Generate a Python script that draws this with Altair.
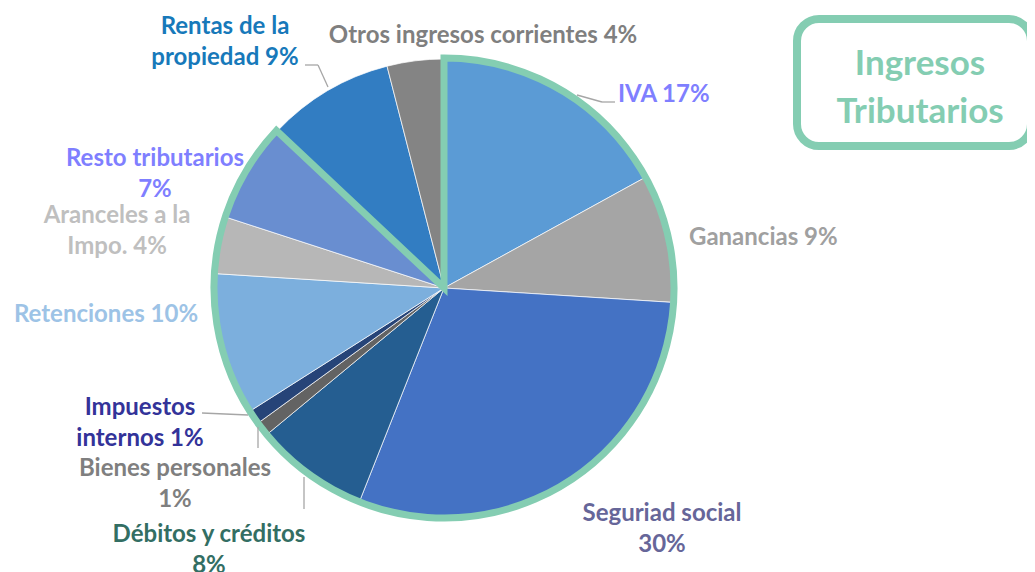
import altair as alt
import pandas as pd

# ---------------- data ----------------
categories = ["IVA", "Ganancias", "Seguridad social", "Débitos y créditos",
              "Bienes personales", "Impuestos internos", "Retenciones",
              "Aranceles a la Impo.", "Resto tributarios",
              "Rentas de la propiedad", "Otros ingresos corrientes"]
values = [17, 9, 30, 8, 1, 1, 10, 4, 7, 9, 4]
tributario = [1, 1, 1, 1, 1, 1, 1, 1, 1, 0, 0]
label_names = ["IVA ", "Ganancias ", "Seguriad social\n", "Débitos y créditos\n",
               "Bienes personales\n", "Impuestos\ninternos ", "Retenciones ",
               "Aranceles a la\nImpo. ", "Resto tributarios\n",
               "Rentas de la\npropiedad ", "Otros ingresos corrientes "]
box_title = ["Ingresos", "Tributarios"]

# ---------------- styles ----------------
slice_colors = ["#5B9BD5", "#A5A5A5", "#4472C4", "#255E91", "#636363", "#264478",
                "#7CAFDD", "#B7B7B7", "#698ED0", "#327DC2", "#848484"]
label_colors = ["#7F7FFF", "#A0A0A0", "#666699", "#336E63", "#7F7F7F", "#333399",
                "#9DC3E6", "#BFBFBF", "#7F7FFF", "#1779BA", "#7F7F7F"]
GREEN = "#84CDB2"
FONT = "Lato"
OFF = 8  # page margin
CX, CY, R = 444 - OFF, 288 - OFF, 229

# label layout (screen coords): x, y(first line), align
label_layout = [(618, 95, "left"), (689, 238, "left"), (662, 514, "center"),
                (209, 535, "center"), (175, 469, "center"), (140, 408, "center"),
                (106, 315, "center"), (117, 216, "center"), (155, 159, "center"),
                (225, 27, "center"), (483, 36, "center")]
# leader line segments (screen coords)
leaders = [(305, 65, 318, 65), (318, 65, 328, 87),
           (577, 95, 602, 102), (602, 102, 615, 102),
           (202, 413, 248, 415), (258, 427, 258, 448), (304, 477, 304, 509)]

df = pd.DataFrame({"cat": categories, "val": values, "idx": list(range(len(values))),
                   "grp": [1 - t for t in tributario]})

lab = pd.DataFrame({
    "text": [n + f"{v}%" for n, v in zip(label_names, values)],
    "lcolor": label_colors,
    "lx": [p[0] - OFF for p in label_layout],
    "ly": [p[1] - OFF for p in label_layout],
    "align": [p[2] for p in label_layout],
})
lines = pd.DataFrame({"x1": [l[0] - OFF for l in leaders], "y1": [l[1] - OFF for l in leaders],
                      "x2": [l[2] - OFF for l in leaders], "y2": [l[3] - OFF for l in leaders]})
box = pd.DataFrame({"t": ["\n".join(box_title)]})

pie = alt.Chart(df).mark_arc(radius=R, stroke="white", strokeWidth=0.7).encode(
    theta=alt.Theta("val:Q", stack=True),
    order=alt.Order("idx:Q"),
    color=alt.Color("cat:N", scale=alt.Scale(domain=categories, range=slice_colors), legend=None),
    x=alt.value(CX), y=alt.value(CY),
)

outline = alt.Chart(df).transform_aggregate(
    total="sum(val)", groupby=["grp"]
).mark_arc(radius=R + 1, fill="white", fillOpacity=0, stroke=GREEN, strokeWidth=7,
           strokeJoin="miter").encode(
    theta=alt.Theta("total:Q", stack=True),
    order=alt.Order("grp:Q"),
    strokeOpacity=alt.condition(alt.datum.grp == 0, alt.value(1), alt.value(0)),
    x=alt.value(CX), y=alt.value(CY),
)

rules = alt.Chart(lines).mark_rule(color="#A6A6A6", strokeWidth=1.3).encode(
    x=alt.X("x1:Q", scale=None), y=alt.Y("y1:Q", scale=None),
    x2="x2:Q", y2="y2:Q",
)

def text_layer(al):
    return alt.Chart(lab).transform_filter(alt.datum.align == al).mark_text(
        font=FONT, fontSize=24, fontWeight="bold", align=al, baseline="middle",
        lineBreak="\n", lineHeight=31,
    ).encode(
        x=alt.X("lx:Q", scale=None), y=alt.Y("ly:Q", scale=None),
        text="text:N",
        fill=alt.Fill("lcolor:N", scale=None, legend=None),
    )

boxrect = alt.Chart(box).mark_rect(cornerRadius=22, fill="white", fillOpacity=0,
                                   stroke=GREEN, strokeWidth=8).encode(
    x=alt.value(797 - OFF), x2=alt.value(1031 - OFF),
    y=alt.value(19 - OFF), y2=alt.value(146 - OFF),
)
boxtext = alt.Chart(box).mark_text(font=FONT, fontSize=35, fontWeight="bold", color=GREEN,
                                   align="center", baseline="middle", lineBreak="\n",
                                   lineHeight=48).encode(
    x=alt.value(920 - OFF), y=alt.value(64 - OFF), text="t:N",
)

chart = alt.layer(pie, outline, rules, text_layer("left"), text_layer("center"),
                  boxrect, boxtext).properties(
    width=1019, height=564, padding=0, autosize="none"
).configure_view(stroke=None)

chart.save("out.html", embed_options={"renderer": "svg", "actions": False})
